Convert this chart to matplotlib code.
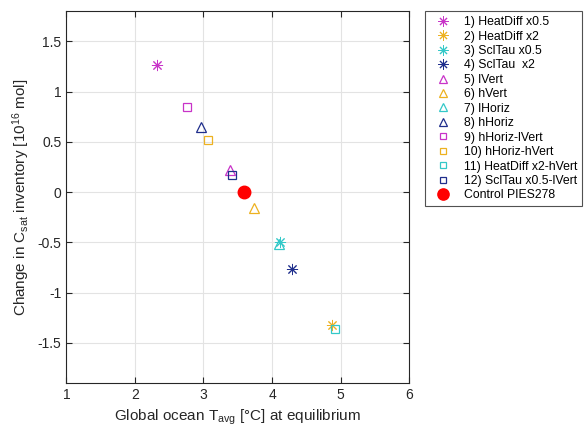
import matplotlib.pyplot as plt
from matplotlib.ticker import MultipleLocator

plt.rcParams['font.family'] = ['Liberation Sans', 'DejaVu Sans']
plt.rcParams['mathtext.fontset'] = 'custom'
plt.rcParams['mathtext.rm'] = 'Liberation Sans'
plt.rcParams['mathtext.it'] = 'Liberation Sans:italic'

labels = ["1) HeatDiff x0.5", "2) HeatDiff x2", "3) SclTau x0.5", "4) SclTau  x2",
          "5) lVert", "6) hVert", "7) lHoriz", "8) hHoriz",
          "9) hHoriz-lVert", "10) hHoriz-hVert", "11) HeatDiff x2-hVert",
          "12) SclTau x0.5-lVert", "Control PIES278"]
t_avg = [2.32, 4.87, 4.12, 4.29, 3.39, 3.74, 4.10, 2.96, 2.76, 3.06, 4.92, 3.42, 3.59]
d_csat = [1.26, -1.32, -0.50, -0.76, 0.22, -0.16, -0.52, 0.65, 0.85, 0.52, -1.36, 0.17, 0.0]

magenta = "#c833c8"
orange = "#edb120"
cyan = "#33c8c8"
navy = "#1f2e8c"
colors = [magenta, orange, cyan, navy] * 3 + ["#ff0000"]
star = (8, 2, 0)
markers = [star] * 4 + ["^"] * 4 + ["s"] * 4 + ["o"]
sizes = [8] * 4 + [7] * 4 + [5.5] * 4 + [9]
widths = [0.7] * 4 + [0.9] * 8 + [1.0]

fig = plt.figure(figsize=(5.87, 4.30), dpi=100)
ax = fig.add_axes([0.113, 0.109, 0.584, 0.865])

handles = []
for x, y, c, m, s, w, lab in zip(t_avg, d_csat, colors, markers, sizes, widths, labels):
    filled = m == "o"
    h, = ax.plot([x], [y], linestyle="none", marker=m, markersize=s,
                 markeredgecolor=c, markerfacecolor=c if filled else "none",
                 markeredgewidth=w, label=lab)
    handles.append(h)

ax.set_xlim(1, 6)
ax.set_ylim(-1.9, 1.8)
ax.xaxis.set_major_locator(MultipleLocator(1))
ax.yaxis.set_major_locator(MultipleLocator(0.5))
ax.yaxis.set_major_formatter(plt.FuncFormatter(lambda v, p: f"{v:g}"))
ax.grid(True, color="#e3e3e3", linewidth=0.8)
ax.set_axisbelow(True)
ax.tick_params(direction="in", top=True, right=True, labelsize=10,
               colors="#262626", length=4)
for sp in ax.spines.values():
    sp.set_color("#262626")
    sp.set_linewidth(0.8)

ax.set_xlabel(r"Global ocean T$_{\mathrm{avg}}$ [°C] at equilibrium",
              fontsize=11, color="#262626")
ax.set_ylabel(r"Change in C$_{\mathrm{sat}}$ inventory [10$^{16}$ mol]",
              fontsize=11, color="#262626")

leg = fig.legend(handles=handles, loc="upper left", bbox_to_anchor=(0.724, 0.974),
                 borderaxespad=0, fontsize=8.8, frameon=True, fancybox=False,
                 edgecolor="#262626", handlelength=2.1, labelspacing=0.2,
                 borderpad=0.4, handletextpad=0.7, markerscale=0.9)
leg.get_frame().set_linewidth(0.8)

fig.savefig("out.png", dpi=100)
